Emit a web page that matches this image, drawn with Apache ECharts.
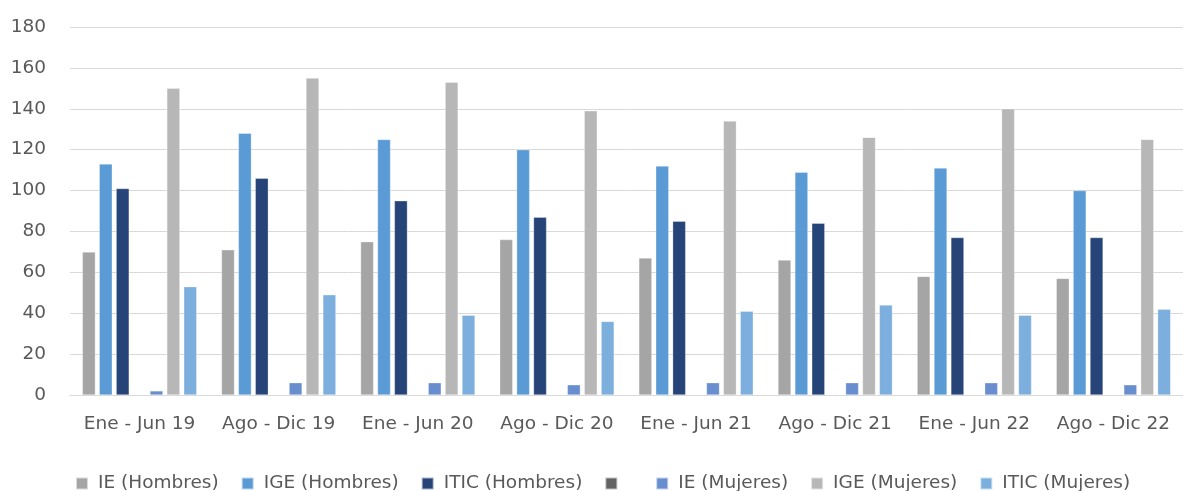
<!DOCTYPE html>
<html>
<head>
<meta charset="utf-8">
<script src="https://cdn.jsdelivr.net/npm/echarts@6/dist/echarts.min.js"></script>
<style>
html,body{margin:0;padding:0;background:#fff;}
#chart{width:1183px;height:491px;}
</style>
</head>
<body>
<div id="chart"></div>
<script>
const categories = ['Ene - Jun 19','Ago - Dic 19','Ene - Jun 20','Ago - Dic 20','Ene - Jun 21','Ago - Dic 21','Ene - Jun 22','Ago - Dic 22'];
const seriesNames = ['IE (Hombres)','IGE (Hombres)','ITIC (Hombres)',' ','IE (Mujeres)','IGE (Mujeres)','ITIC (Mujeres)'];
const ieHombres   = [70, 71, 75, 76, 67, 66, 58, 57];
const igeHombres  = [113, 128, 125, 120, 112, 109, 111, 100];
const iticHombres = [101, 106, 95, 87, 85, 84, 77, 77];
const blankSeries = [null, null, null, null, null, null, null, null];
const ieMujeres   = [2, 6, 6, 5, 6, 6, 6, 5];
const igeMujeres  = [150, 155, 153, 139, 134, 126, 140, 125];
const iticMujeres = [53, 49, 39, 36, 41, 44, 39, 42];
const yTicks = [0, 20, 40, 60, 80, 100, 120, 140, 160, 180];

const colors = ['#A5A5A5','#5B9BD5','#264478','#636363','#698ED0','#B7B7B7','#7CAFDD'];
const allData = [ieHombres, igeHombres, iticHombres, blankSeries, ieMujeres, igeMujeres, iticMujeres];
const font = '"DejaVu Sans", sans-serif';

const chart = echarts.init(document.getElementById('chart'));
chart.setOption({
  animation: false,
  color: colors,
  textStyle: { fontFamily: font },
  grid: { left: 70, right: 0, top: 27, bottom: 96 },
  legend: {
    data: seriesNames,
    top: 469,
    left: 70,
    itemWidth: 12,
    itemHeight: 12,
    itemGap: 22,
    icon: 'rect',
    textStyle: { fontFamily: font, fontSize: 18.5, color: '#595959', padding: [0, 0, 0, 5] }
  },
  xAxis: {
    type: 'category',
    data: categories,
    axisTick: { show: false },
    axisLine: { lineStyle: { color: '#D9D9D9', width: 1 } },
    axisLabel: { fontFamily: font, fontSize: 18.5, color: '#595959', margin: 20, interval: 0 }
  },
  yAxis: {
    type: 'value',
    min: yTicks[0],
    max: yTicks[yTicks.length - 1],
    interval: 20,
    axisLine: { show: false },
    axisTick: { show: false },
    splitLine: { lineStyle: { color: '#D9D9D9', width: 1 } },
    axisLabel: { fontFamily: font, fontSize: 18.5, color: '#595959', margin: 24 }
  },
  series: seriesNames.map((n, i) => ({
    name: n,
    type: 'bar',
    data: allData[i],
    barWidth: 13,
    barGap: '30%',
    itemStyle: { color: colors[i], borderColor: 'rgba(255,255,255,0.6)', borderWidth: 0.5 }
  }))
});
</script>
</body>
</html>
